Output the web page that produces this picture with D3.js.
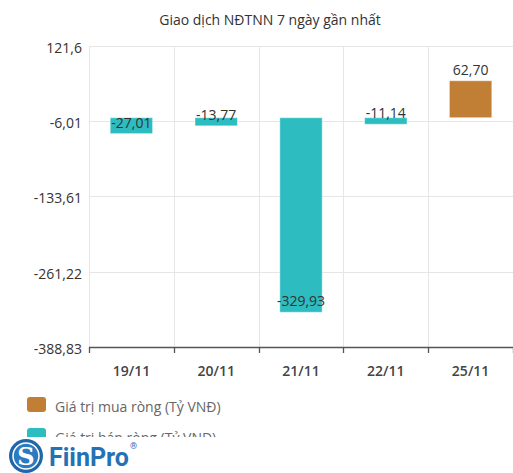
<!DOCTYPE html>
<html>
<head>
<meta charset="utf-8">
<script src="https://cdn.jsdelivr.net/npm/d3@7"></script>
<style>
  html, body { margin: 0; padding: 0; background: #fff; }
  svg { display: block; font-family: "Open Sans", "Noto Sans", sans-serif; }
</style>
</head>
<body>
<svg id="chart" width="513" height="473"></svg>
<script>
const title = "Giao dịch NĐTNN 7 ngày gần nhất";
const categories = ["19/11", "20/11", "21/11", "22/11", "25/11"];
const netBuy = [null, null, null, null, 62.70];
const netSell = [-27.01, -13.77, -329.93, -11.14, null];
const yTicks = [121.6, -6.01, -133.61, -261.22, -388.83];
const seriesNames = ["Giá trị mua ròng (Tỷ VNĐ)", "Giá trị bán ròng (Tỷ VNĐ)"];
const seriesColors = ["#c17f36", "#2dbdc1"];

const svg = d3.select("#chart");
const margin = {left: 89, right: 0, top: 46, bottom: 126};
const W = 513, H = 473;

const x = d3.scaleBand().domain(categories).range([margin.left, W - margin.right]).paddingInner(0).paddingOuter(0);
const y = d3.scaleLinear().domain([d3.min(yTicks), d3.max(yTicks)]).range([H - margin.bottom, margin.top]);
const fmt = v => String(v.toFixed(v === Math.round(v * 10) / 10 && Math.abs(v) > 100 ? 1 : 2)).replace(".", ",");
const tickFmt = v => String(v).replace(".", ",");

// title
svg.append("text").attr("x", 270).attr("y", 25).attr("text-anchor", "middle")
  .attr("font-size", 14).attr("fill", "#333").text(title);

// horizontal gridlines
svg.append("g").selectAll("line").data(yTicks).join("line")
  .attr("x1", margin.left).attr("x2", W).attr("y1", d => Math.round(y(d)) + 0.5).attr("y2", d => Math.round(y(d)) + 0.5)
  .attr("stroke", "#e6e6e6").attr("stroke-width", 1);

// vertical gridlines at band boundaries
const bounds = categories.map(c => x(c)).concat([x(categories[categories.length - 1]) + x.bandwidth()]);
svg.append("g").selectAll("line").data(bounds).join("line")
  .attr("x1", d => Math.round(d) + 0.5).attr("x2", d => Math.round(d) + 0.5)
  .attr("y1", margin.top).attr("y2", H - margin.bottom)
  .attr("stroke", "#e6e6e6").attr("stroke-width", 1);

// y axis labels
const yAxis = d3.axisLeft(y).tickValues(yTicks).tickFormat(tickFmt).tickSize(0).tickPadding(7);
const gy = svg.append("g").attr("transform", `translate(${margin.left},0)`).call(yAxis);
gy.select(".domain").remove();
gy.selectAll("text").attr("font-size", 14).attr("fill", "#333").attr("font-family", "Open Sans, sans-serif").attr("dy", "0.45em");

// bars
const bw = x.bandwidth() * 0.5;
function drawSeries(vals, color) {
  const data = categories.map((c, i) => ({c, v: vals[i]})).filter(d => d.v !== null);
  svg.append("g").selectAll("rect").data(data).join("rect")
    .attr("x", d => x(d.c) + (x.bandwidth() - bw) / 2)
    .attr("y", d => Math.min(y(d.v), y(0)))
    .attr("width", bw)
    .attr("height", d => Math.abs(y(d.v) - y(0)))
    .attr("fill", color)
    .attr("stroke", "rgba(255,255,255,0.45)").attr("stroke-width", 1);
  svg.append("g").selectAll("text").data(data).join("text")
    .attr("x", d => x(d.c) + x.bandwidth() / 2)
    .attr("y", d => y(d.v) - 6)
    .attr("text-anchor", "middle").attr("font-size", 14).attr("fill", "#333")
    .text(d => d.v.toFixed(2).replace(".", ","));
}
drawSeries(netBuy, seriesColors[0]);
drawSeries(netSell, seriesColors[1]);

// x axis
const xAxis = d3.axisBottom(x).tickSize(0).tickPadding(0);
const gx = svg.append("g").attr("transform", `translate(0,${H - margin.bottom})`).call(xAxis);
gx.select(".domain").remove();
gx.selectAll("text").attr("font-size", 14).attr("font-weight", 600).attr("fill", "#444")
  .attr("font-family", "Open Sans, sans-serif").attr("y", 29).attr("dy", 0);
svg.append("line").attr("x1", margin.left).attr("x2", W).attr("y1", H - margin.bottom + 0.5).attr("y2", H - margin.bottom + 0.5)
  .attr("stroke", "#555").attr("stroke-width", 1.3);
svg.append("g").selectAll("line").data(bounds).join("line")
  .attr("x1", d => Math.round(d) + 0.5).attr("x2", d => Math.round(d) + 0.5)
  .attr("y1", H - margin.bottom).attr("y2", H - margin.bottom + 6)
  .attr("stroke", "#555").attr("stroke-width", 1.3);

// legend
const lg = svg.append("g");
seriesNames.forEach((n, i) => {
  const yy = 397 + i * 31;
  lg.append("rect").attr("x", 27).attr("y", yy).attr("width", 19).attr("height", 15).attr("rx", 3)
    .attr("fill", seriesColors[i]);
  lg.append("text").attr("x", 55).attr("y", yy + 15).attr("font-size", 14).attr("fill", "#666").text(n);
});
// cut-off area
svg.append("rect").attr("x", 0).attr("y", 437).attr("width", W).attr("height", H - 437).attr("fill", "#fff");

// logo
const logo = svg.append("g");
logo.append("circle").attr("cx", 26).attr("cy", 456).attr("r", 17).attr("fill", "#1f67a8");
logo.append("circle").attr("cx", 26).attr("cy", 456).attr("r", 13).attr("fill", "#2b7bc0").attr("stroke", "#fff").attr("stroke-width", 1.5);
logo.append("text").attr("x", 26).attr("y", 465).attr("text-anchor", "middle").attr("font-size", 24)
  .attr("font-family", "DejaVu Serif, serif").attr("font-weight", "bold").attr("fill", "#fff").text("S");
logo.append("text").attr("x", 49).attr("y", 466).attr("font-size", 25).attr("font-weight", "bold")
  .attr("font-family", "Roboto, sans-serif").attr("fill", "#2471b6").text("FiinPro");
logo.append("text").attr("x", 130).attr("y", 449).attr("font-size", 9).attr("font-family", "Roboto, sans-serif")
  .attr("fill", "#2471b6").text("®");
</script>
</body>
</html>
